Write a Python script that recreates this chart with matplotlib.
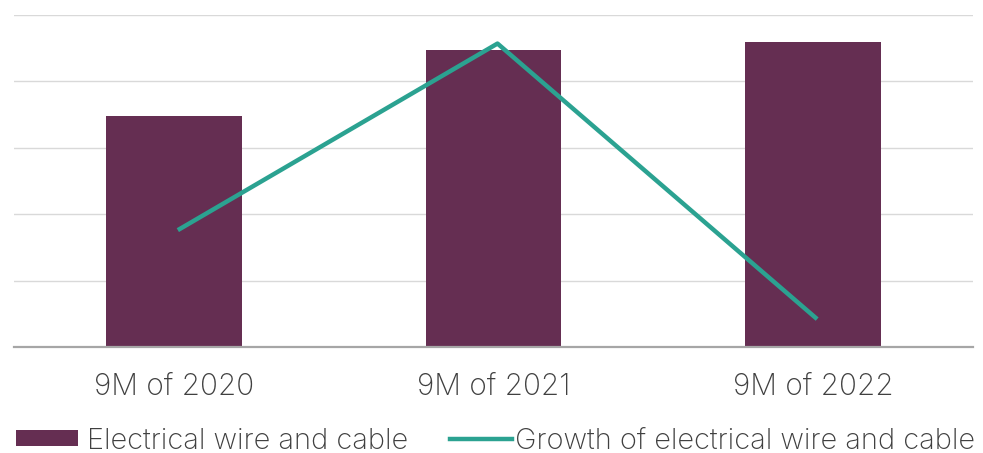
import matplotlib
matplotlib.use("Agg")
import matplotlib.pyplot as plt
from matplotlib.patches import Patch
from matplotlib.lines import Line2D

categories = ["9M of 2020", "9M of 2021", "9M of 2022"]
wire_cable = [3.48, 4.47, 4.59]
growth = [1.76, 4.57, 0.42]
series_names = ["Electrical wire and cable", "Growth of electrical wire and cable"]

plt.rcParams['font.family'] = ['Inter', 'DejaVu Sans']
plt.rcParams['font.weight'] = 'light'

W, H = 983, 453
fig = plt.figure(figsize=(W / 100, H / 100), dpi=100)
ax = fig.add_axes([14 / W, 1 - 347 / H, 959 / W, 332 / H])

purple = "#652E52"
teal = "#2BA291"
text_color = "#404040"
fs = 21.4
lfs = 20.9

x = list(range(len(categories)))
ax.bar(x, wire_cable, width=0.425, color=purple, zorder=2)
ax.set_xlim(-0.5, 2.5)
ax.set_ylim(0, 5)

ax2 = ax.twinx()
ax2.set_ylim(0, 5)
line_offset = 0.0125
ax2.plot([v + line_offset for v in x], growth, color=teal, linewidth=3.2, zorder=4,
         solid_capstyle="butt")
ax2.axis("off")

ax.set_yticks([0, 1, 2, 3, 4, 5])
ax.yaxis.grid(True, color="#D9D9D9", linewidth=1.0, zorder=0)
ax.set_axisbelow(True)
ax.tick_params(axis="y", left=False, right=False, labelleft=False, labelright=False)
ax.tick_params(axis="x", bottom=False, labelsize=fs, colors=text_color, pad=15)
ax.set_xticks(x)
ax.set_xticklabels(categories, fontweight="light")
for s in ["top", "right", "left"]:
    ax.spines[s].set_visible(False)
ax.spines["bottom"].set_color("#A6A6A6")
ax.spines["bottom"].set_linewidth(1.6)
ax.spines["bottom"].set_zorder(3)

common = dict(loc="center left", frameon=False, prop={"size": lfs, "weight": "light"},
              handleheight=0.5, labelcolor=text_color,
              borderpad=0, borderaxespad=0)
fig.legend([Patch(facecolor=purple, edgecolor="none")], [series_names[0]],
           bbox_to_anchor=(16 / W, 1 - 441 / H), handlelength=2.15, handletextpad=0.3,
           **common)
fig.legend([Line2D([0], [0], color=teal, linewidth=3.2)], [series_names[1]],
           bbox_to_anchor=(450 / W, 1 - 441 / H), handlelength=2.15, handletextpad=0.08,
           **common)

fig.savefig("out.png", dpi=100)
